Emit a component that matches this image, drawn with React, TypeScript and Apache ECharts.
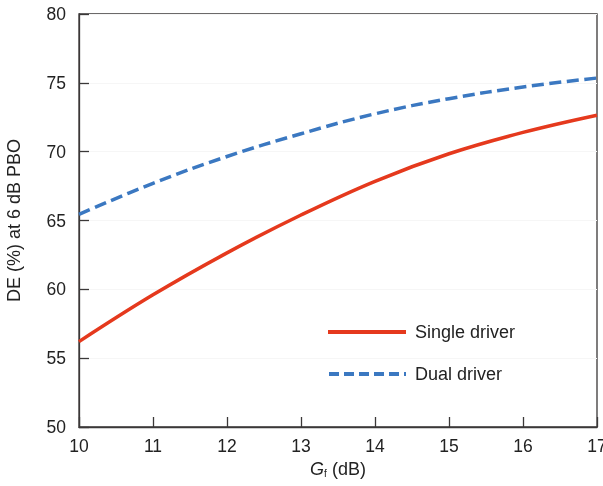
import React, { useEffect, useRef } from "react";
import * as echarts from "echarts";

const gf = [10, 11, 12, 13, 14, 15, 16, 17];
const singleDriver = [56.2, 59.6, 62.65, 65.4, 67.85, 69.85, 71.4, 72.65];
const dualDriver = [65.45, 67.7, 69.65, 71.3, 72.75, 73.85, 74.7, 75.35];
const legendNames = ["Single driver", "Dual driver"];

const FONT = "Arial, 'Liberation Sans', Helvetica, sans-serif";
const RED = "#e5391d";
const BLUE = "#3b78c1";

export default function App() {
  const ref = useRef<HTMLDivElement>(null);
  useEffect(() => {
    if (!ref.current) return;
    const chart = echarts.init(ref.current, undefined, { renderer: "svg" });
    const axisColor = "#3b3838";
    chart.setOption({
      animation: false,
      textStyle: { fontFamily: FONT },
      grid: {
        left: 79,
        right: 6,
        top: 14,
        bottom: 59,
        containLabel: false,
        outerBoundsMode: "none",
        show: true,
        borderColor: axisColor,
        borderWidth: 1.3,
      },
      graphic: [
        { type: "line", shape: { x1: 328, y1: 332, x2: 406, y2: 332 }, style: { stroke: RED, lineWidth: 4 } },
        { type: "text", x: 415, y: 332, style: { text: legendNames[0], fontSize: 18, fontFamily: FONT, fill: "#222", verticalAlign: "middle" } },
        { type: "line", shape: { x1: 329, y1: 374, x2: 406, y2: 374 }, style: { stroke: BLUE, lineWidth: 4, lineDash: [10, 5] } },
        { type: "text", x: 415, y: 374, style: { text: legendNames[1], fontSize: 18, fontFamily: FONT, fill: "#222", verticalAlign: "middle" } },
      ],
      xAxis: {
        type: "value",
        min: 10,
        max: 17,
        interval: 1,
        name: "{i|G}{s|f} (dB)",
        nameLocation: "middle",
        nameGap: 30,
        nameTextStyle: {
          fontSize: 18,
          color: "#222",
          rich: {
            i: { fontStyle: "italic", fontSize: 18, color: "#222", fontFamily: FONT },
            s: { fontSize: 10, color: "#222", verticalAlign: "bottom", padding: [10, 0, 0, 0], fontFamily: FONT },
          },
        },
        axisLine: { lineStyle: { color: axisColor, width: 1.3 } },
        axisTick: { inside: true, length: 10, lineStyle: { color: axisColor, width: 1.3 } },
        axisLabel: { fontSize: 17.5, color: "#222", margin: 10 },
        splitLine: { show: false },
      },
      yAxis: {
        type: "value",
        min: 50,
        max: 80,
        interval: 5,
        name: "DE (%) at 6 dB PBO",
        nameLocation: "middle",
        nameGap: 56,
        nameTextStyle: { fontSize: 18, color: "#222" },
        axisLine: { show: true, lineStyle: { color: axisColor, width: 1.3 } },
        axisTick: { show: true, inside: true, length: 10, lineStyle: { color: axisColor, width: 1.3 } },
        axisLabel: { fontSize: 17.5, color: "#222", margin: 13 },
        splitLine: { show: true, lineStyle: { color: "#f6f6f6", width: 1 } },
      },
      series: [
        {
          name: legendNames[0],
          type: "line",
          smooth: 0.4,
          symbol: "none",
          data: gf.map((x, i) => [x, singleDriver[i]]),
          lineStyle: { color: RED, width: 3.5 },
          itemStyle: { color: RED },
        },
        {
          name: legendNames[1],
          type: "line",
          smooth: 0.4,
          symbol: "none",
          data: gf.map((x, i) => [x, dualDriver[i]]),
          lineStyle: { color: BLUE, width: 3.5, type: [12, 5.5] },
          itemStyle: { color: BLUE },
        },
      ],
    });
    return () => chart.dispose();
  }, []);
  return <div ref={ref} style={{ position: "fixed", left: 0, top: 0, width: 603, height: 486 }} />;
}
